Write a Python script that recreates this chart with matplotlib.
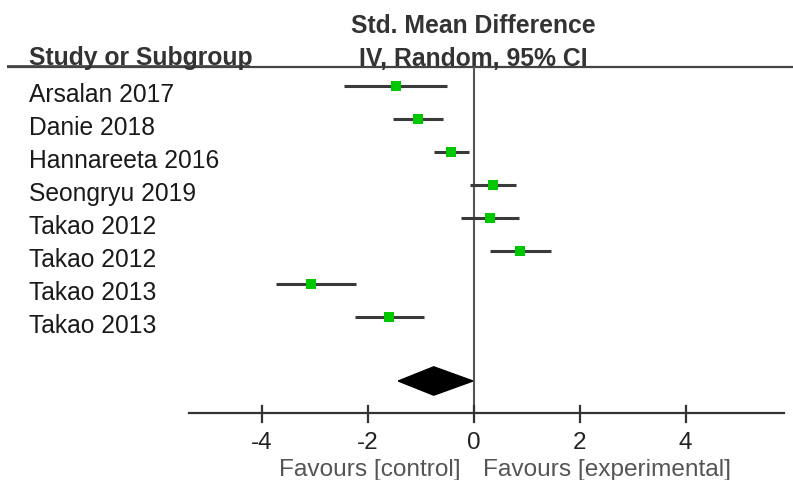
import matplotlib.pyplot as plt
from matplotlib.patches import Polygon

plt.rcParams['font.family'] = ['Liberation Sans', 'DejaVu Sans']

# Study data (standardised mean difference with 95% CI)
studies = ["Arsalan 2017", "Danie 2018", "Hannareeta 2016", "Seongryu 2019",
           "Takao 2012", "Takao 2012", "Takao 2013", "Takao 2013"]
smd = [-1.46, -1.05, -0.42, 0.37, 0.31, 0.88, -3.07, -1.59]
ci_low = [-2.44, -1.52, -0.75, -0.07, -0.24, 0.31, -3.73, -2.24]
ci_high = [-0.50, -0.58, -0.08, 0.80, 0.86, 1.46, -2.22, -0.93]

# Pooled estimate
pooled = -0.75
pooled_low = -1.42
pooled_high = -0.01

ticks = [-4, -2, 0, 2, 4]

fig = plt.figure(figsize=(7.93, 4.81), dpi=100)
ax = fig.add_axes([0, 0, 1, 1])
ax.set_xlim(-8.934, 6.028)
ax.set_ylim(11.94, -2.636)
ax.axis('off')

rows = list(range(len(studies)))
yax = ax.get_yaxis_transform()

# header
ax.text(0, -1.636, "Std. Mean Difference", ha='center', va='baseline',
        fontsize=17.8, fontweight='bold', color='#333333')
ax.text(0, -0.636, "IV, Random, 95% CI", ha='center', va='baseline',
        fontsize=17.8, fontweight='bold', color='#333333')
ax.text(29 / 793, -0.667, "Study or Subgroup", transform=yax, ha='left',
        va='baseline', fontsize=17.8, fontweight='bold', color='#333333')
ax.plot([0.009, 1], [-0.576, -0.576], transform=yax, color='#444444', lw=1.6,
        solid_capstyle='butt')
ax.plot([0.009, 250 / 793], [-0.62, -0.62], transform=yax, color='#444444',
        lw=1.2, solid_capstyle='butt')

# zero line
ax.plot([0, 0], [-0.576, 9.91], color='#555555', lw=1.5)

# studies
for i, name in enumerate(studies):
    ax.text(29 / 793, i + 0.45, name, transform=yax, ha='left', va='baseline',
            fontsize=17.7, color='#1a1a1a')
    ax.plot([ci_low[i], ci_high[i]], [i, i], color='#3a3a3a', lw=2.2,
            solid_capstyle='butt')
ax.plot(smd, rows, 's', color='#00c800', markersize=6.5, markeredgewidth=0)

# pooled diamond
dy = 0.43
yd = 8.94
diamond = Polygon([[pooled_low, yd], [pooled, yd - dy], [pooled_high, yd],
                   [pooled, yd + dy]], closed=True, facecolor='black',
                  edgecolor='black')
ax.add_patch(diamond)

# x axis
ax.plot([-5.36, 5.85], [9.91, 9.91], color='#333333', lw=1.6)
for t in ticks:
    ax.plot([t, t], [9.70, 10.18], color='#333333', lw=1.6)
    ax.text(t, 10.97, f"{t}", ha='center', va='baseline', fontsize=17.5,
            color='#222222')

ax.text(-0.25, 11.79, "Favours [control]", ha='right', va='baseline',
        fontsize=17.6, color='#555555')
ax.text(0.18, 11.79, "Favours [experimental]", ha='left', va='baseline',
        fontsize=17.6, color='#555555')

fig.savefig("out.png", dpi=100)
